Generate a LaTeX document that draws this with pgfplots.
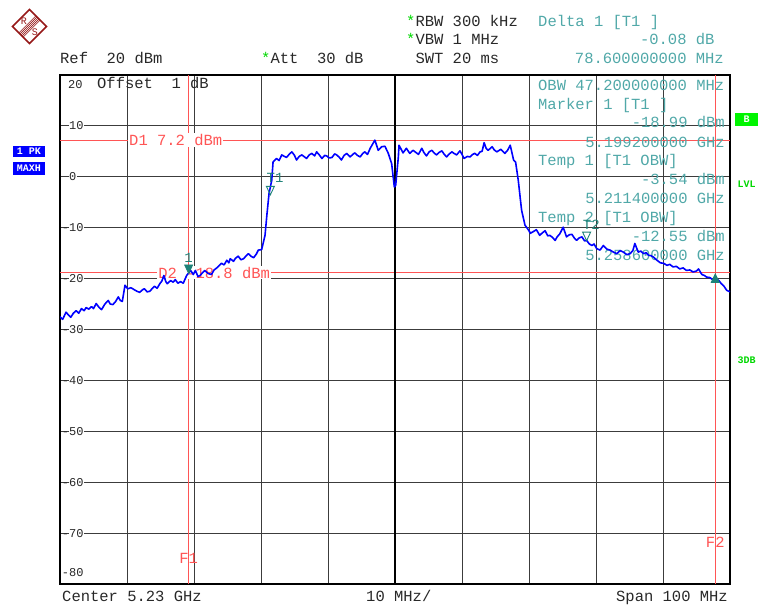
\documentclass[border=0pt]{standalone}
\usepackage{fontspec}
\setmainfont{Liberation Mono}
\usepackage{pgfplots}
\pgfplotsset{compat=1.18}
\definecolor{trc}{RGB}{0,0,255}
\definecolor{tealtxt}{RGB}{80,168,168}
\definecolor{mk}{RGB}{30,130,120}
\definecolor{dline}{RGB}{255,85,85}
\definecolor{grn}{RGB}{0,215,0}
\definecolor{grnbox}{RGB}{0,245,0}
\definecolor{rsred}{RGB}{150,25,25}
\definecolor{gridc}{RGB}{60,60,60}
\definecolor{txt}{RGB}{40,40,40}
\newcommand{\mf}{\fontsize{15.5}{17}\selectfont}
\newcommand{\tf}{\fontsize{12}{13}\selectfont}
\newcommand{\bxf}{\fontsize{10}{10}\selectfont\bfseries}
\pgfdeclareplotmark{mdown}{%
 \pgfpathmoveto{\pgfqpoint{0pt}{0pt}}%
 \pgfpathlineto{\pgfqpoint{-4pt}{8.5pt}}%
 \pgfpathlineto{\pgfqpoint{4pt}{8.5pt}}%
 \pgfpathclose\pgfusepathqstroke}
\pgfdeclareplotmark{mdownf}{%
 \pgfpathmoveto{\pgfqpoint{0pt}{0pt}}%
 \pgfpathlineto{\pgfqpoint{-4pt}{8.5pt}}%
 \pgfpathlineto{\pgfqpoint{4pt}{8.5pt}}%
 \pgfpathclose\pgfusepathqfillstroke}
\pgfdeclareplotmark{mupf}{%
 \pgfpathmoveto{\pgfqpoint{0pt}{0pt}}%
 \pgfpathlineto{\pgfqpoint{-4pt}{-8.5pt}}%
 \pgfpathlineto{\pgfqpoint{4pt}{-8.5pt}}%
 \pgfpathclose\pgfusepathqfillstroke}
\tikzset{tl/.style={anchor=west, fill=white, inner sep=0.6pt, font=\tf, text=txt, xshift=8.4pt}}
\begin{document}
\begin{tikzpicture}
\path[use as bounding box] (-60pt,-23pt) rectangle (698pt,584pt);
\begin{axis}[at={(0pt,0pt)}, anchor=south west, scale only axis,
  width=670pt, height=509pt,
  xmin=0, xmax=100, ymin=-80, ymax=20,
  xtick={0,10,...,100}, ytick={-80,-70,...,20},
  xticklabels={}, yticklabels={}, major tick length=0pt,
  grid=major, major grid style={gridc, line width=0.9pt},
  axis line style={line width=1.6pt, black}]
% display lines
\draw[dline, line width=0.8pt] (axis cs:0,7.2) -- (axis cs:100,7.2);
\draw[dline, line width=0.8pt] (axis cs:0,-18.8) -- (axis cs:100,-18.8);
\draw[dline, line width=0.8pt] (axis cs:19.2,-80) -- (axis cs:19.2,20);
\draw[dline, line width=0.8pt] (axis cs:97.8,-80) -- (axis cs:97.8,20);
\draw[black, line width=2.6pt] (axis cs:50,-80) -- (axis cs:50,20);
% tick labels
\node[tl] at (axis cs:0,10) {10};
\node[tl] at (axis cs:0,0) {0};
\node[tl] at (axis cs:0,-10) {\llap{-}10};
\node[tl] at (axis cs:0,-20) {\llap{-}20};
\node[tl] at (axis cs:0,-30) {\llap{-}30};
\node[tl] at (axis cs:0,-40) {\llap{-}40};
\node[tl] at (axis cs:0,-50) {\llap{-}50};
\node[tl] at (axis cs:0,-60) {\llap{-}60};
\node[tl] at (axis cs:0,-70) {\llap{-}70};
\node[tl] at (axis cs:0,-77.8) {\llap{-}80};
\node[anchor=base west, inner sep=0pt, font=\tf, text=txt] at (axis cs:1.19,17.44) {20};
\node[anchor=base west, inner sep=0pt, font=\mf, text=txt] at (axis cs:5.52,17.44) {Offset~~1~dB};
% marker info
\node[anchor=base west, inner sep=0pt, font=\mf, text=tealtxt] at (axis cs:71.34,17.05) {OBW~47.200000000~MHz};
\node[anchor=base west, inner sep=0pt, font=\mf, text=tealtxt] at (axis cs:71.34,13.31) {Marker~1~[T1~]};
\node[anchor=base east, inner sep=0pt, font=\mf, text=tealtxt] at (axis cs:99.25,9.76) {-18.99~dBm};
\node[anchor=base east, inner sep=0pt, font=\mf, text=tealtxt] at (axis cs:99.25,5.83) {5.199200000~GHz};
\node[anchor=base west, inner sep=0pt, font=\mf, text=tealtxt] at (axis cs:71.34,2.28) {Temp~1~[T1~OBW]};
\node[anchor=base east, inner sep=0pt, font=\mf, text=tealtxt] at (axis cs:99.25,-1.46) {-3.54~dBm};
\node[anchor=base east, inner sep=0pt, font=\mf, text=tealtxt] at (axis cs:99.25,-5.20) {5.211400000~GHz};
\node[anchor=base west, inner sep=0pt, font=\mf, text=tealtxt] at (axis cs:71.34,-8.94) {Temp~2~[T1~OBW]};
\node[anchor=base east, inner sep=0pt, font=\mf, text=tealtxt] at (axis cs:99.25,-12.68) {-12.55~dBm};
\node[anchor=base east, inner sep=0pt, font=\mf, text=tealtxt] at (axis cs:99.25,-16.42) {5.258600000~GHz};
% line labels
\node[anchor=west, fill=white, inner sep=1pt, font=\mf, text=dline] at (axis cs:10.15,7.2) {D1~7.2~dBm};
\node[anchor=west, fill=white, inner sep=1pt, font=\mf, text=dline] at (axis cs:14.5,-18.8) {D2~-18.8~dBm};
\node[font=\mf, text=dline, inner sep=0pt] at (axis cs:19.2,-74.9) {F1};
\node[font=\mf, text=dline, inner sep=0pt] at (axis cs:97.8,-71.9) {F2};
% trace
\addplot[trc, line width=1.6pt, line join=round] coordinates {
(0,-27.5) (0.4,-28.0) (0.9,-26.6) (1.3,-27.2) (1.6,-27.6) (2.0,-26.8) (2.4,-26.3) (2.8,-26.8)
(3.2,-25.9) (3.6,-26.3) (3.9,-25.7) (4.3,-26.0) (4.7,-25.5) (5.0,-25.9) (5.4,-24.9) (5.8,-25.6)
(6.2,-26.1) (6.7,-25.0) (7.2,-24.3) (7.5,-25.0) (7.9,-25.1) (8.3,-24.5) (8.7,-23.6) (9.0,-24.3)
(9.3,-24.5) (9.7,-21.3) (10.1,-22.0) (10.6,-21.8) (11.1,-22.2) (11.5,-22.5) (11.9,-22.7) (12.3,-22.2)
(12.6,-22.0) (13.0,-22.6) (13.4,-22.5) (13.8,-21.9) (14.1,-21.5) (14.5,-21.9) (14.9,-21.0) (15.2,-20.5)
(15.5,-19.4) (15.8,-20.6) (16.0,-21.0) (16.5,-20.4) (16.9,-20.7) (17.2,-20.2) (17.6,-20.9) (18.0,-20.6)
(18.4,-20.9) (18.9,-19.4) (19.2,-18.9) (19.5,-18.4) (19.9,-19.2) (20.2,-18.4) (20.6,-19.6) (20.9,-19.4)
(21.3,-18.8) (21.6,-18.4) (22.1,-19.0) (22.6,-19.2) (23.0,-18.3) (23.4,-17.9) (23.8,-17.4) (24.1,-17.0)
(24.5,-17.3) (24.9,-16.4) (25.2,-16.9) (25.4,-16.1) (25.9,-16.6) (26.2,-16.0) (26.6,-15.6) (27.0,-16.3)
(27.4,-16.1) (27.8,-15.5) (28.1,-15.1) (28.5,-15.6) (28.9,-15.9) (29.3,-15.2) (29.6,-14.4) (30.1,-14.3)
(30.6,-11.5) (30.9,-7.2) (31.2,-3.3) (31.6,-0.7) (31.8,2.9) (32.3,3.6) (32.7,3.2) (33.1,4.3)
(33.5,4.0) (33.8,3.8) (34.2,4.4) (34.6,4.9) (35.0,4.2) (35.3,3.3) (35.7,4.0) (36.1,4.3)
(36.5,3.9) (36.8,3.6) (37.2,4.3) (37.6,4.6) (38.0,4.1) (38.3,4.9) (38.7,4.3) (39.1,3.6)
(39.5,4.2) (39.8,4.1) (40.2,3.7) (40.6,3.8) (41.0,4.5) (41.3,4.3) (41.7,3.8) (42.0,3.3)
(42.4,4.2) (42.8,4.6) (43.3,3.9) (43.7,4.4) (44.0,4.7) (44.4,4.2) (44.8,3.9) (45.2,4.6)
(45.5,4.9) (45.9,4.4) (46.3,5.6) (47.0,7.2) (47.5,5.2) (48.0,5.9) (48.5,6.0) (49.0,4.6)
(49.5,2.6) (49.9,-2.0) (50.1,-1.7) (50.5,3.9) (50.6,6.2) (51.2,4.7) (51.7,5.6) (52.2,4.6)
(52.7,5.2) (53.1,4.8) (53.5,4.4) (54.0,5.6) (54.3,4.8) (54.7,4.1) (55.1,4.9) (55.5,5.2)
(55.9,4.6) (56.2,4.3) (56.6,4.8) (57.0,5.1) (57.3,4.5) (57.7,3.9) (58.1,4.5) (58.5,4.9)
(58.8,4.6) (59.2,4.3) (59.7,5.1) (60.0,4.4) (60.3,3.6) (60.8,4.0) (61.2,3.9) (61.6,4.4)
(61.9,4.6) (62.3,4.2) (62.7,4.9) (63.0,5.0) (63.3,6.7) (63.6,5.6) (63.9,5.2) (64.5,5.9)
(64.8,5.3) (65.2,4.9) (65.8,5.4) (66.1,5.0) (66.4,4.6) (66.8,5.2) (67.2,6.2) (67.7,3.3)
(68.0,2.9) (68.4,-0.7) (68.7,-4.3) (68.9,-6.6) (69.4,-9.5) (69.9,-10.4) (70.2,-11.1) (70.6,-10.8)
(71.1,-10.4) (71.6,-11.5) (72.0,-11.0) (72.4,-10.6) (72.8,-11.6) (73.1,-11.5) (73.5,-11.9) (73.9,-12.5)
(74.2,-11.8) (74.6,-11.2) (75.1,-9.9) (75.6,-11.8) (76.0,-11.4) (76.4,-11.3) (76.8,-12.1) (77.1,-12.5)
(77.5,-12.0) (77.9,-11.8) (78.3,-12.6) (78.6,-12.5) (79.0,-13.2) (79.4,-13.5) (79.7,-13.2) (80.1,-14.1)
(80.6,-14.4) (81.1,-13.5) (81.6,-14.2) (82.1,-14.4) (82.6,-14.8) (83.1,-15.1) (83.6,-14.5) (84.1,-14.8)
(84.6,-15.3) (85.1,-15.1) (85.5,-14.5) (85.8,-13.1) (86.3,-14.8) (86.7,-14.6) (87.1,-15.1) (87.5,-14.9)
(87.8,-15.4) (88.2,-15.5) (88.6,-15.8) (89.1,-16.4) (89.6,-16.9) (90.1,-17.0) (90.6,-17.4) (91.0,-17.2)
(91.5,-17.7) (92.0,-17.6) (92.5,-18.1) (93.0,-17.9) (93.5,-18.4) (94.0,-18.3) (94.5,-18.7) (95.0,-18.5)
(95.3,-18.1) (95.8,-19.2) (96.2,-19.4) (96.5,-19.7) (97.0,-19.8) (97.4,-20.2) (98.0,-20.0) (98.4,-20.5)
(98.7,-21.0) (99.1,-21.5) (99.5,-22.3) (100,-22.6)
};
% markers
\addplot[only marks, mark=mdownf, mark options={draw=mk, fill=mk, line width=0.8pt}] coordinates {(19.2,-18.99)};
\addplot[only marks, mark=mdown, mark options={draw=mk, line width=0.9pt}] coordinates {(31.4,-3.54) (78.6,-12.55)};
\addplot[only marks, mark=mupf, mark options={draw=mk, fill=mk, line width=0.8pt}] coordinates {(97.8,-19.07)};
\node[font=\fontsize{14}{14}\selectfont, text=mk, inner sep=0pt] at (axis cs:19.2,-16.0) {1};
\node[font=\fontsize{14}{14}\selectfont, text=mk, inner sep=0pt] at (axis cs:32.1,-0.3) {T1};
\node[font=\fontsize{14}{14}\selectfont, text=mk, inner sep=0pt] at (axis cs:79.3,-9.5) {T2};
\end{axis}
% header texts
\node[anchor=base west, inner sep=0pt, font=\mf, text=txt] at (0pt,520pt) {Ref~~20~dBm};
\node[anchor=base west, inner sep=0pt, font=\mf, text=txt] at (201pt,520pt) {\textcolor{grn}{*}Att~~30~dB};
\node[anchor=base west, inner sep=0pt, font=\mf, text=txt] at (346pt,557pt) {\textcolor{grn}{*}RBW~300~kHz};
\node[anchor=base west, inner sep=0pt, font=\mf, text=txt] at (346pt,539pt) {\textcolor{grn}{*}VBW~1~MHz};
\node[anchor=base west, inner sep=0pt, font=\mf, text=txt] at (346pt,520pt) {\phantom{*}SWT~20~ms};
\node[anchor=base west, inner sep=0pt, font=\mf, text=tealtxt] at (478pt,557pt) {Delta~1~[T1~]};
\node[anchor=base east, inner sep=0pt, font=\mf, text=tealtxt] at (664pt,539pt) {-0.08~dB\phantom{z}};
\node[anchor=base east, inner sep=0pt, font=\mf, text=tealtxt] at (664pt,520pt) {78.600000000~MHz};
% footer
\node[anchor=base west, inner sep=0pt, font=\mf, text=txt] at (2pt,-18pt) {Center~5.23~GHz};
\node[anchor=base west, inner sep=0pt, font=\mf, text=txt] at (306pt,-18pt) {10~MHz/};
\node[anchor=base east, inner sep=0pt, font=\mf, text=txt] at (668pt,-18pt) {Span~100~MHz};
% side boxes
\fill[trc] (-47pt,427pt) rectangle (-15pt,438pt);
\node[text=white, font=\bxf, inner sep=0pt] at (-31pt,432.5pt) {1~PK};
\fill[trc] (-47pt,409pt) rectangle (-15pt,422pt);
\node[text=white, font=\bxf, inner sep=0pt] at (-31pt,415.5pt) {MAXH};
\fill[grnbox] (675pt,458pt) rectangle (698pt,471pt);
\node[text=white, font=\bxf, inner sep=0pt] at (686.5pt,464.5pt) {B};
\node[text=grn, font=\bxf, inner sep=0pt] at (686.5pt,400pt) {LVL};
\node[text=grn, font=\bxf, inner sep=0pt] at (686.5pt,224pt) {3DB};
% logo
\begin{scope}[shift={(-30.5pt,557.5pt)}]
\begin{scope}[rotate=45]
\draw[rsred, line width=1.6pt] (-12pt,-12pt) rectangle (12pt,12pt);
\foreach \s in {-3,-1.5,0,1.5,3} {\draw[rsred, line width=0.6pt] (-12pt,\s pt) -- (12pt,\s pt);}
\end{scope}
\node[text=rsred, font=\fontsize{10}{10}\selectfont, inner sep=0pt] at (-5.5pt,5.5pt) {R};
\node[text=rsred, font=\fontsize{10}{10}\selectfont, inner sep=0pt] at (5.5pt,-5.5pt) {S};
\end{scope}
\end{tikzpicture}
\end{document}
